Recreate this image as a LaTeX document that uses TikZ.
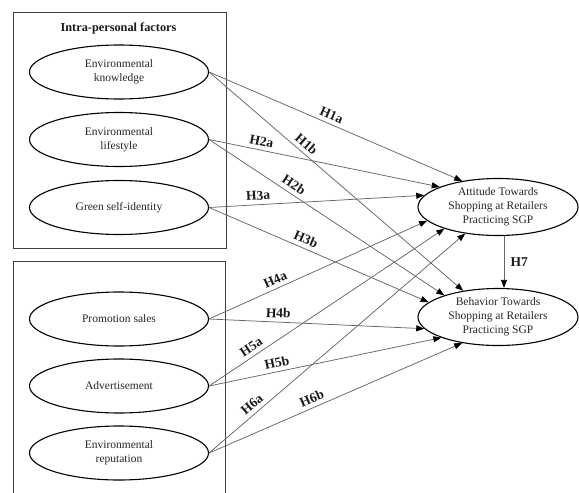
\documentclass[tikz,border=0pt]{standalone}
\usepackage{fontspec}
\setmainfont{Liberation Serif}
\usetikzlibrary{shapes.geometric,arrows.meta}
\begin{document}
\begin{tikzpicture}[x=1pt,y=-1pt,
  factor/.style={ellipse,draw=black,line width=1.1pt,minimum width=179pt,minimum height=54pt,inner sep=-3pt,align=center,font=\fontsize{11.5}{14}\selectfont,text=black!85},
  outcome/.style={factor,minimum width=160pt,minimum height=57pt},
  grp/.style={draw=black!75,line width=0.9pt},
  conn/.style={draw=black!60,line width=0.75pt,-{Triangle[length=8pt,width=6pt,color=black]}},
  hlab/.style={font=\fontsize{13.5}{14}\selectfont\bfseries,sloped,above=3pt,inner sep=1pt,text=black!90}
]
\useasboundingbox (0,0) rectangle (579,493);

% group frames
\draw[grp] (13,12) rectangle (226,248);
\draw[grp] (13,494) -- (13,261) -- (225,261) -- (225,494);
\node[font=\fontsize{12.3}{15}\selectfont\bfseries,text=black!90] (title) at (118.5,28) {Intra-personal factors};

% factors
\node[factor] (ek) at (119,72) {Environmental\\knowledge};
\node[factor] (el) at (119,139.5) {Environmental\\lifestyle};
\node[factor] (gs) at (119,207.5) {Green self-identity};
\node[factor] (ps) at (119,319) {Promotion sales};
\node[factor] (ad) at (119,386) {Advertisement};
\node[factor] (er) at (119,453) {Environmental\\reputation};

% outcomes
\node[outcome] (att) at (498,207) {Attitude Towards\\Shopping at Retailers\\Practicing SGP};
\node[outcome] (beh) at (498,317) {Behavior Towards\\Shopping at Retailers\\Practicing SGP};

% connectors
\draw[conn] (ek.east) -- node[hlab,pos=0.47]{H1a} (att.144.6);
\draw[conn] (ek.east) -- node[hlab,pos=0.36]{H1b} (beh.143.6);
\draw[conn] (el.east) -- node[hlab,pos=0.22]{H2a} (att.161);
\draw[conn] (el.east) -- node[hlab,pos=0.34]{H2b} (beh.158.5);
\draw[conn] (gs.east) -- node[hlab,pos=0.23]{H3a} (att.171.5);
\draw[conn] (gs.east) -- node[hlab,pos=0.425]{H3b} (beh.168.7);
\draw[conn] (ps.east) -- node[hlab,pos=0.32]{H4a} (att.191.5);
\draw[conn] (ps.east) -- node[hlab,pos=0.32]{H4b} (beh.189);
\draw[conn] (ad.east) -- node[hlab,pos=0.2]{H5a} (att.202);
\draw[conn] (ad.east) -- node[hlab,pos=0.3]{H5b} (beh.200);
\draw[conn] (er.east) -- node[hlab,pos=0.19]{H6a} (att.219);
\draw[conn] (er.east) -- node[hlab,pos=0.42]{H6b} (beh.216);
\draw[conn] ([xshift=6pt]att.south) -- node[font=\fontsize{13.5}{14}\selectfont\bfseries,right=3pt,text=black!90]{H7} ([xshift=6pt]beh.north);
\end{tikzpicture}
\end{document}
